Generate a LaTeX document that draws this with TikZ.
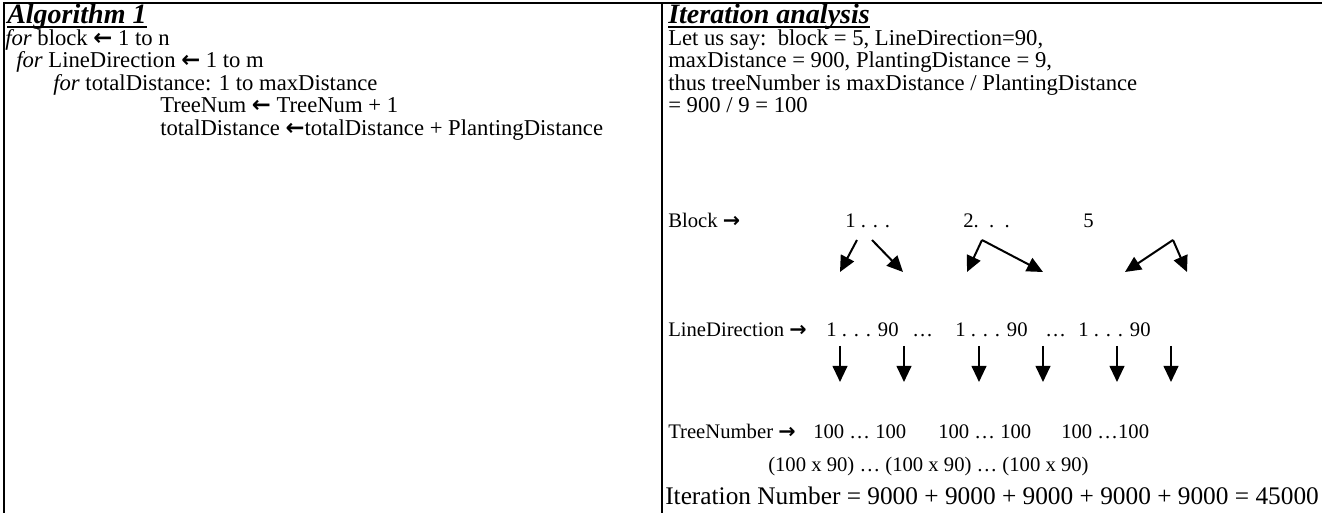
\documentclass[tikz,border=0pt]{standalone}
\usepackage{fontspec}
\setmainfont{Liberation Serif}
\newfontfamily\arrowfont{DejaVu Sans}
\usetikzlibrary{arrows.meta}

\newcommand{\getsarrow}{{\arrowfont\bfseries\char"2190}}
\newcommand{\toarrow}{{\arrowfont\bfseries\char"2192}}

\begin{document}
\begin{tikzpicture}[
        x=0.75pt, y=-0.75pt,
        every node/.style={inner sep=0pt, anchor=base west},
        body/.style={font=\fontsize{17}{19}\selectfont},
        small/.style={font=\fontsize{15.5}{17}\selectfont},
        total/.style={font=\fontsize{19}{21}\selectfont},
        heading/.style={font=\fontsize{21}{23}\selectfont\bfseries\itshape},
        frame/.style={line width=1.5pt},
        uline/.style={line width=1.3pt},
        link/.style={line width=1.5pt, -{Triangle[length=12pt, width=11pt]}}
    ]
    \useasboundingbox (0,0) rectangle (1322,513);

    % table lines
    \draw[frame] (4,513) -- (4,3) -- (1322,3);
    \draw[frame] (662,3) -- (662,513);

    % left column
    \node[heading] (algtitle) at (7,24) {Algorithm 1};
    \draw[uline] ([yshift=-2.5pt]algtitle.base west) -- ([yshift=-2.5pt]algtitle.base east);
    \node[body] (loopa) at (5,46) {\textit{for} block \getsarrow{} 1 to n};
    \node[body] (loopb) at (16,68) {\textit{for} LineDirection \getsarrow{} 1 to m};
    \node[body] (loopc) at (53,91) {\textit{for} totalDistance: 1 to maxDistance};
    \node[body] (stepa) at (160,113) {TreeNum \getsarrow{} TreeNum + 1};
    \node[body] (stepb) at (160,136) {totalDistance \getsarrow totalDistance + PlantingDistance};

    % right column
    \node[heading] (antitle) at (668,24) {Iteration analysis};
    \draw[uline] ([yshift=-2.5pt]antitle.base west) -- ([yshift=-2.5pt]antitle.base east);
    \node[body] (givena) at (668,46) {Let us say:\ \ block = 5, LineDirection=90,};
    \node[body] (givenb) at (668,68) {maxDistance = 900, PlantingDistance = 9,};
    \node[body] (givenc) at (668,91) {thus treeNumber is maxDistance / PlantingDistance};
    \node[body] (givend) at (668,113) {= 900 / 9 = 100};

    % block level
    \node[small] (blocklbl) at (668,228) {Block \toarrow};
    \node[small] (blka) at (845,228) {1 . . .};
    \node[small] (blkb) at (963,228) {2.\ \ .\ \ .};
    \node[small] (blkc) at (1083,228) {5};

    % line direction level
    \node[small] (ldlbl) at (668,337) {LineDirection \toarrow};
    \node[small] (lda) at (826,337) {1 . . . 90};
    \node[small] (dotsa) at (912,337) {…};
    \node[small] (ldb) at (955,337) {1 . . . 90};
    \node[small] (dotsb) at (1045,337) {…};
    \node[small] (ldc) at (1078,337) {1 . . . 90};

    % tree number level
    \node[small] (tnlbl) at (668,439) {TreeNumber \toarrow};
    \node[small] (tna) at (813,439) {100 … 100};
    \node[small] (tnb) at (938,439) {100 … 100};
    \node[small] (tnc) at (1061,439) {100 …100};
    \node[small] (prod) at (768,471) {(100 x 90) … (100 x 90) … (100 x 90)};
    \node[total] (itnum) at (665,504) {Iteration Number = 9000 + 9000 + 9000 + 9000 + 9000 = 45000};

    % arrow ends
    \coordinate (sa) at (857,240);
    \coordinate (sb) at (872,240);
    \coordinate (sc) at (982,240);
    \coordinate (sd) at (1173,240);
    \coordinate (ea) at (840,272);
    \coordinate (eb) at (903,272);
    \coordinate (ec) at (967,272);
    \coordinate (ed) at (1043,272);
    \coordinate (ee) at (1125,272);
    \coordinate (ef) at (1187,272);

    \coordinate (va) at (840,346);
    \coordinate (vb) at (904,346);
    \coordinate (vc) at (979,346);
    \coordinate (vd) at (1043,346);
    \coordinate (ve) at (1117,346);
    \coordinate (vf) at (1171,346);
    \coordinate (wa) at (840,382);
    \coordinate (wb) at (904,382);
    \coordinate (wc) at (979,382);
    \coordinate (wd) at (1043,382);
    \coordinate (we) at (1117,382);
    \coordinate (wf) at (1171,382);

    % block -> line direction
    \draw[link] (sa) -- (ea);
    \draw[link] (sb) -- (eb);
    \draw[link] (sc) -- (ec);
    \draw[link] (sc) -- (ed);
    \draw[link] (sd) -- (ee);
    \draw[link] (sd) -- (ef);

    % line direction -> tree number
    \draw[link] (va) -- (wa);
    \draw[link] (vb) -- (wb);
    \draw[link] (vc) -- (wc);
    \draw[link] (vd) -- (wd);
    \draw[link] (ve) -- (we);
    \draw[link] (vf) -- (wf);
\end{tikzpicture}
\end{document}
